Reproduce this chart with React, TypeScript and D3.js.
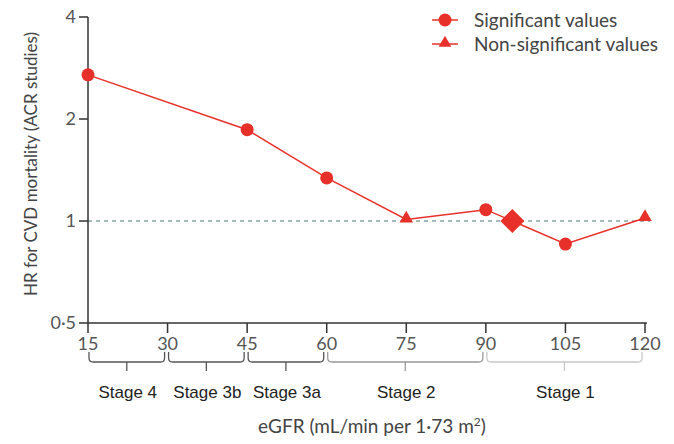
import React from "react";
import * as d3 from "d3";

const egfr = [15, 45, 60, 75, 90, 105, 120];
const hr = [2.7, 1.86, 1.34, 1.01, 1.08, 0.855, 1.02];
const significant = [true, true, true, false, true, true, false];
const refPoint = { egfr: 95, hr: 1.0 };
const xTicks = [15, 30, 45, 60, 75, 90, 105, 120];
const yTicks = [0.5, 1, 2, 4];
const yTickLabels = ["0·5", "1", "2", "4"];
const stages = [
  { name: "Stage 4", from: 15, to: 30, color: "#555" },
  { name: "Stage 3b", from: 30, to: 45, color: "#555" },
  { name: "Stage 3a", from: 45, to: 60, color: "#555" },
  { name: "Stage 2", from: 60, to: 90, color: "#999" },
  { name: "Stage 1", from: 90, to: 120, color: "#c8c8c8" },
];

const W = 674, H = 444;
const RED = "#e8302a";
const FONT = "Lato, 'Open Sans', sans-serif";

export default function App() {
  const x = d3.scaleLinear().domain([15, 120]).range([88, 645]);
  const y = d3.scaleLog().base(2).domain([0.5, 4]).range([323, 17]);
  const data = egfr.map((e, i) => ({ e, v: hr[i], s: significant[i] }));
  const line = d3.line<any>().x(d => x(d.e)).y(d => y(d.v));
  const lineData = [...data.slice(0, 5), { e: refPoint.egfr, v: refPoint.hr }, ...data.slice(5)];
  const tri = d3.symbol().type(d3.symbolTriangle).size(80)()!;
  const triLeg = d3.symbol().type(d3.symbolTriangle).size(70)()!;

  const bracketPath = (a: number, b: number) => {
    const x0 = x(a) + 1, x1 = x(b) - 3, top = 352, bot = 362, r = 4;
    const mid = (x0 + x1) / 2;
    return `M${x0},${top} V${bot - r} Q${x0},${bot} ${x0 + r},${bot} H${x1 - r} Q${x1},${bot} ${x1},${bot - r} V${top} M${mid},${bot} V${bot + 9}`;
  };

  return (
    <svg width={W} height={H} style={{ position: "absolute", left: 0, top: 0, background: "#fff" }}>
      <line x1={x(15)} x2={650} y1={y(1)} y2={y(1)} stroke="#8aa3a3" strokeWidth={1.5} strokeDasharray="4,4" />
      <line x1={88} x2={88} y1={y(4)} y2={y(0.5)} stroke="#333" strokeWidth={1.5} />
      <line x1={88} x2={x(120) + 2} y1={y(0.5)} y2={y(0.5)} stroke="#333" strokeWidth={1.5} />
      {yTicks.map((t, i) => (
        <g key={t}>
          <line x1={79} x2={88} y1={y(t)} y2={y(t)} stroke="#333" strokeWidth={1.5} />
          <text x={76} y={y(t)} dy="0.36em" textAnchor="end" fontFamily={FONT} fontSize={18} fill="#555">{yTickLabels[i]}</text>
        </g>
      ))}
      {xTicks.map(t => (
        <g key={t}>
          <line x1={x(t)} x2={x(t)} y1={323} y2={333} stroke="#333" strokeWidth={1.5} />
          <text x={x(t)} y={350} textAnchor="middle" fontFamily={FONT} fontSize={18} fill="#555">{t}</text>
        </g>
      ))}
      {stages.map(s => (
        <g key={s.name}>
          <path d={bracketPath(s.from, s.to)} fill="none" stroke={s.color} strokeWidth={1.3} />
          <text x={(x(s.from) + x(s.to)) / 2} y={398} textAnchor="middle" fontFamily="'Liberation Sans', Arial, sans-serif" fontSize={17} fill="#222">{s.name}</text>
        </g>
      ))}
      <text transform={`translate(37,164) rotate(-90)`} textAnchor="middle" fontFamily={FONT} fontSize={17} fill="#444">HR for CVD mortality (ACR studies)</text>
      <text x={372} y={433} textAnchor="middle" fontFamily={FONT} fontSize={19} fill="#444">
        eGFR (mL/min per 1·73 m<tspan dy={-7} fontSize={12}>2</tspan><tspan dy={7}>)</tspan>
      </text>
      <path d={line(lineData) ?? ""} fill="none" stroke={RED} strokeWidth={1.5} />
      {data.map(d => d.s ? (
        <circle key={d.e} cx={x(d.e)} cy={y(d.v)} r={6.5} fill={RED} />
      ) : (
        <path key={d.e} d={tri} transform={`translate(${x(d.e)},${y(d.v) - 1})`} fill={RED} />
      ))}
      <rect x={x(refPoint.egfr) - 8.5} y={y(refPoint.hr) - 8.5} width={17} height={17} fill={RED}
        transform={`rotate(45,${x(refPoint.egfr)},${y(refPoint.hr)})`} />
      <g>
        <line x1={432} x2={458} y1={20} y2={20} stroke={RED} strokeWidth={1.5} />
        <circle cx={445} cy={20} r={6.5} fill={RED} />
        <text x={474} y={20} dy="0.36em" fontFamily={FONT} fontSize={19} fill="#444">Significant values</text>
        <line x1={432} x2={458} y1={44} y2={44} stroke={RED} strokeWidth={1.5} />
        <path d={triLeg} transform="translate(445,43)" fill={RED} />
        <text x={474} y={44} dy="0.36em" fontFamily={FONT} fontSize={19} fill="#444">Non-significant values</text>
      </g>
    </svg>
  );
}
